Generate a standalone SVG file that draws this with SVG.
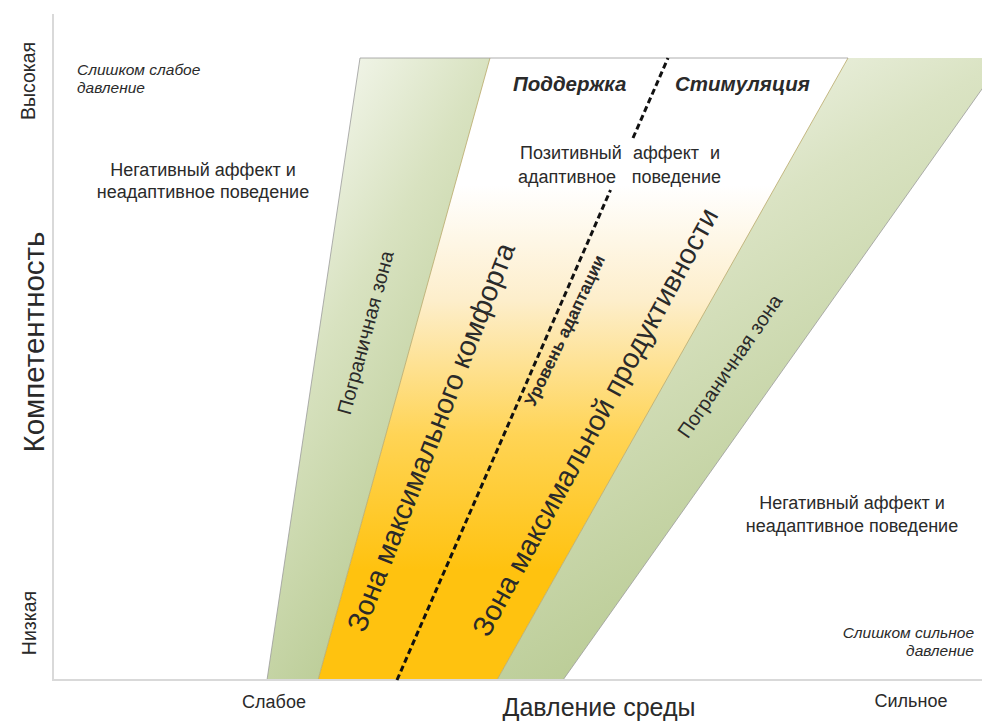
<svg xmlns="http://www.w3.org/2000/svg" width="982" height="722" viewBox="0 0 982 722">
<defs>
<linearGradient id="gGreenL" x1="0" y1="0" x2="0.6" y2="1">
<stop offset="0" stop-color="#ffffff"/>
<stop offset="0.45" stop-color="#d8e2c0"/>
<stop offset="1" stop-color="#b2c68a"/>
</linearGradient>
<linearGradient id="gGreenR" x1="0" y1="0" x2="0.5" y2="1">
<stop offset="0" stop-color="#ffffff"/>
<stop offset="0.4" stop-color="#dae3c3"/>
<stop offset="1" stop-color="#b2c68a"/>
</linearGradient>
<linearGradient id="gYellow" gradientUnits="userSpaceOnUse" x1="0" y1="185" x2="0" y2="570">
<stop offset="0" stop-color="#ffffff"/>
<stop offset="0.3" stop-color="#fdeecb"/>
<stop offset="0.65" stop-color="#ffd455"/>
<stop offset="1" stop-color="#ffc20f"/>
</linearGradient>
<clipPath id="clipR"><rect x="0" y="0" width="982" height="680"/></clipPath>
</defs>
<style>
text{font-family:"Liberation Sans",Arial,sans-serif;fill:#2a2a2a}
.axis{stroke:#d9d9d9;stroke-width:2;fill:none}
.edge{stroke:#9a9a9a;stroke-width:0.8;fill:none}
.ledge{stroke:#b9a868;stroke-width:0.8;fill:none}
.lbl{font-size:18px}
.ital{font-size:15.5px;font-style:italic}
.bi{font-size:20.5px;font-style:italic;font-weight:bold}
.zone{font-size:20px}
.big{font-size:28.5px}
.dash{stroke:#111;stroke-width:3;stroke-dasharray:6,3.5}
</style>
<rect width="982" height="722" fill="#ffffff"/>
<g id="middle-zone">
<polygon points="318,680 490,58 848,58 497,680" fill="url(#gYellow)" stroke="none"/>
</g>
<g id="left-border-zone">
<polygon points="267,680 360,58 490,58 318,680" fill="url(#gGreenL)" stroke="none"/>
<line x1="267" y1="680" x2="360" y2="58" class="edge"/>
<line x1="318" y1="680" x2="490" y2="58" class="ledge"/>
</g>
<g id="right-border-zone" clip-path="url(#clipR)">
<polygon points="497,680 848,58 1004,58 563,680" fill="url(#gGreenR)" stroke="none"/>
<line x1="497" y1="680" x2="848" y2="58" class="ledge"/>
<line x1="563" y1="680" x2="1004" y2="58" class="edge"/>
</g>
<g id="top-edge">
<line x1="360" y1="58" x2="848" y2="58" class="edge"/>
</g>
<g id="connectors">
<line x1="53" y1="14" x2="53" y2="681" class="axis"/>
<line x1="52" y1="680" x2="982" y2="680" class="axis"/>
<line x1="397" y1="680" x2="610.5" y2="190" class="dash"/>
<line x1="633" y1="138" x2="668" y2="58" class="dash"/>
</g>
<g id="axis-labels">
<text transform="translate(35,81) rotate(-90)" text-anchor="middle" font-size="19.5">Высокая</text>
<text transform="translate(36,623) rotate(-90)" text-anchor="middle" font-size="19.5">Низкая</text>
<text transform="translate(44,342) rotate(-90)" text-anchor="middle" font-size="29.5">Компетентность</text>
<text class="lbl" x="274" y="708" text-anchor="middle">Слабое</text>
<text x="599" y="716" text-anchor="middle" font-size="25">Давление среды</text>
<text class="lbl" x="911" y="707" text-anchor="middle">Сильное</text>
</g>
<g id="weak-pressure">
<text class="ital" x="77" y="75">Слишком слабое</text>
<text class="ital" x="77" y="93">давление</text>
</g>
<g id="strong-pressure">
<text class="ital" x="974" y="638" text-anchor="end">Слишком сильное</text>
<text class="ital" x="974" y="656" text-anchor="end">давление</text>
</g>
<g id="neg-left">
<text class="lbl" x="203" y="176" text-anchor="middle">Негативный аффект и</text>
<text class="lbl" x="203" y="198" text-anchor="middle">неадаптивное поведение</text>
</g>
<g id="neg-right">
<text class="lbl" x="852" y="509" text-anchor="middle">Негативный аффект и</text>
<text class="lbl" x="852" y="532" text-anchor="middle">неадаптивное поведение</text>
</g>
<g id="support"><text class="bi" x="513" y="91">Поддержка</text></g>
<g id="stimulation"><text class="bi" x="675" y="91">Стимуляция</text></g>
<g id="positive">
<text class="lbl" y="159"><tspan x="520">Позитивный</tspan><tspan x="633" word-spacing="6">аффект и</tspan></text>
<text class="lbl" y="183"><tspan x="518">адаптивное</tspan><tspan x="721" text-anchor="end">поведение</tspan></text>
</g>
<g id="left-border-label"><text class="zone" transform="translate(367,333) rotate(-75)" text-anchor="middle" dominant-baseline="middle">Пограничная зона</text></g>
<g id="comfort-label"><text class="big" transform="translate(433,438) rotate(-68.6)" text-anchor="middle" dominant-baseline="middle">Зона максимального комфорта</text></g>
<g id="adaptation-label"><text transform="translate(566,331) rotate(-64.5)" text-anchor="middle" dominant-baseline="middle" font-size="17" font-weight="bold">Уровень адаптации</text></g>
<g id="productivity-label"><text class="big" transform="translate(597,423) rotate(-61.4)" text-anchor="middle" dominant-baseline="middle">Зона максимальной продуктивности</text></g>
<g id="right-border-label"><text class="zone" transform="translate(731,367) rotate(-55.5)" text-anchor="middle" dominant-baseline="middle">Пограничная зона</text></g>
</svg>
